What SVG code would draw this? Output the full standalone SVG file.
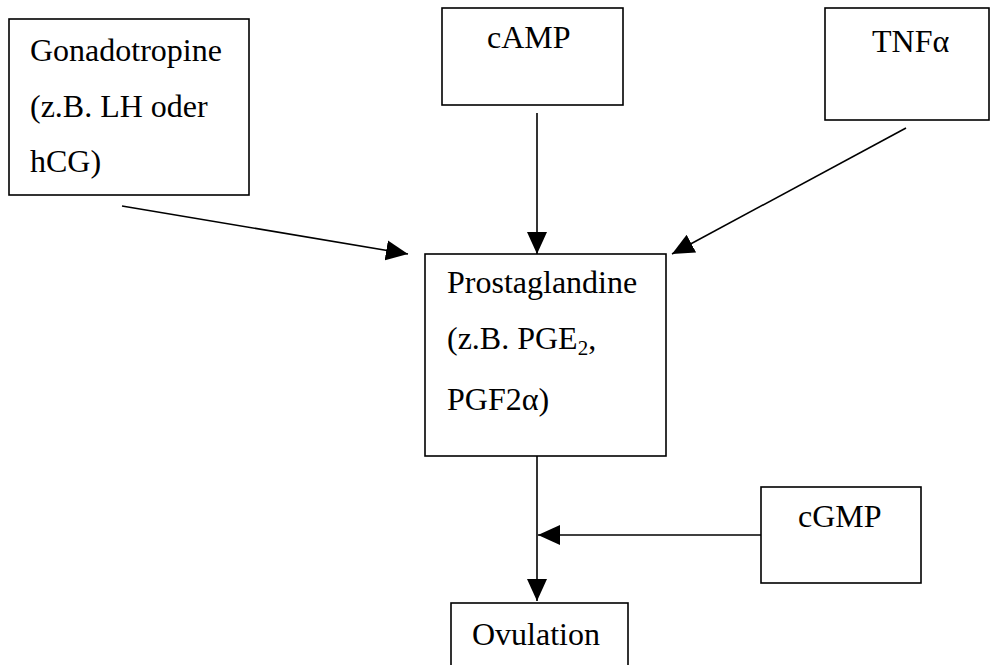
<svg xmlns="http://www.w3.org/2000/svg" width="990" height="665" viewBox="0 0 990 665">
<style>
.box{fill:#fff;stroke:#000;stroke-width:1.6}
.t{font-family:"Liberation Serif","Times New Roman",serif;font-size:32px;fill:#000}
.c{stroke:#000;stroke-width:1.6;fill:none}
</style>
<defs>
<marker id="ah" markerUnits="userSpaceOnUse" markerWidth="24" markerHeight="22" viewBox="0 0 24 22" refX="22" refY="11" orient="auto">
<path d="M0,1 L22,11 L0,21 Z" fill="#000"/>
</marker>
</defs>
<rect width="990" height="665" fill="#fff"/>
<g id="connectors">
<line class="c" x1="122" y1="206" x2="408" y2="254" marker-end="url(#ah)"/>
<line class="c" x1="537" y1="113" x2="537" y2="254" marker-end="url(#ah)"/>
<line class="c" x1="906" y1="128" x2="672" y2="254" marker-end="url(#ah)"/>
<line class="c" x1="537" y1="456" x2="537" y2="601" marker-end="url(#ah)"/>
<line class="c" x1="761" y1="535" x2="538" y2="535" marker-end="url(#ah)"/>
</g>
<g id="gonadotropine">
<rect class="box" x="9" y="19" width="240" height="176"/>
<text class="t" x="30" y="61">Gonadotropine</text>
<text class="t" x="30" y="117">(z.B. LH oder</text>
<text class="t" x="30" y="172">hCG)</text>
</g>
<g id="camp">
<rect class="box" x="442" y="8" width="181" height="97"/>
<text class="t" x="487" y="48">cAMP</text>
</g>
<g id="tnf">
<rect class="box" x="825" y="8" width="164" height="112"/>
<text class="t" x="872" y="52">TNFα</text>
</g>
<g id="prostaglandine">
<rect class="box" x="425" y="254" width="241" height="202"/>
<text class="t" x="447" y="293">Prostaglandine</text>
<text class="t" x="447" y="349">(z.B. PGE<tspan font-size="21" dy="6">2</tspan><tspan dy="-6">,</tspan></text>
<text class="t" x="447" y="410">PGF2α)</text>
</g>
<g id="cgmp">
<rect class="box" x="761" y="487" width="160" height="96"/>
<text class="t" x="798" y="527">cGMP</text>
</g>
<g id="ovulation">
<rect class="box" x="451" y="603" width="177" height="70"/>
<text class="t" x="472" y="645">Ovulation</text>
</g>
</svg>
